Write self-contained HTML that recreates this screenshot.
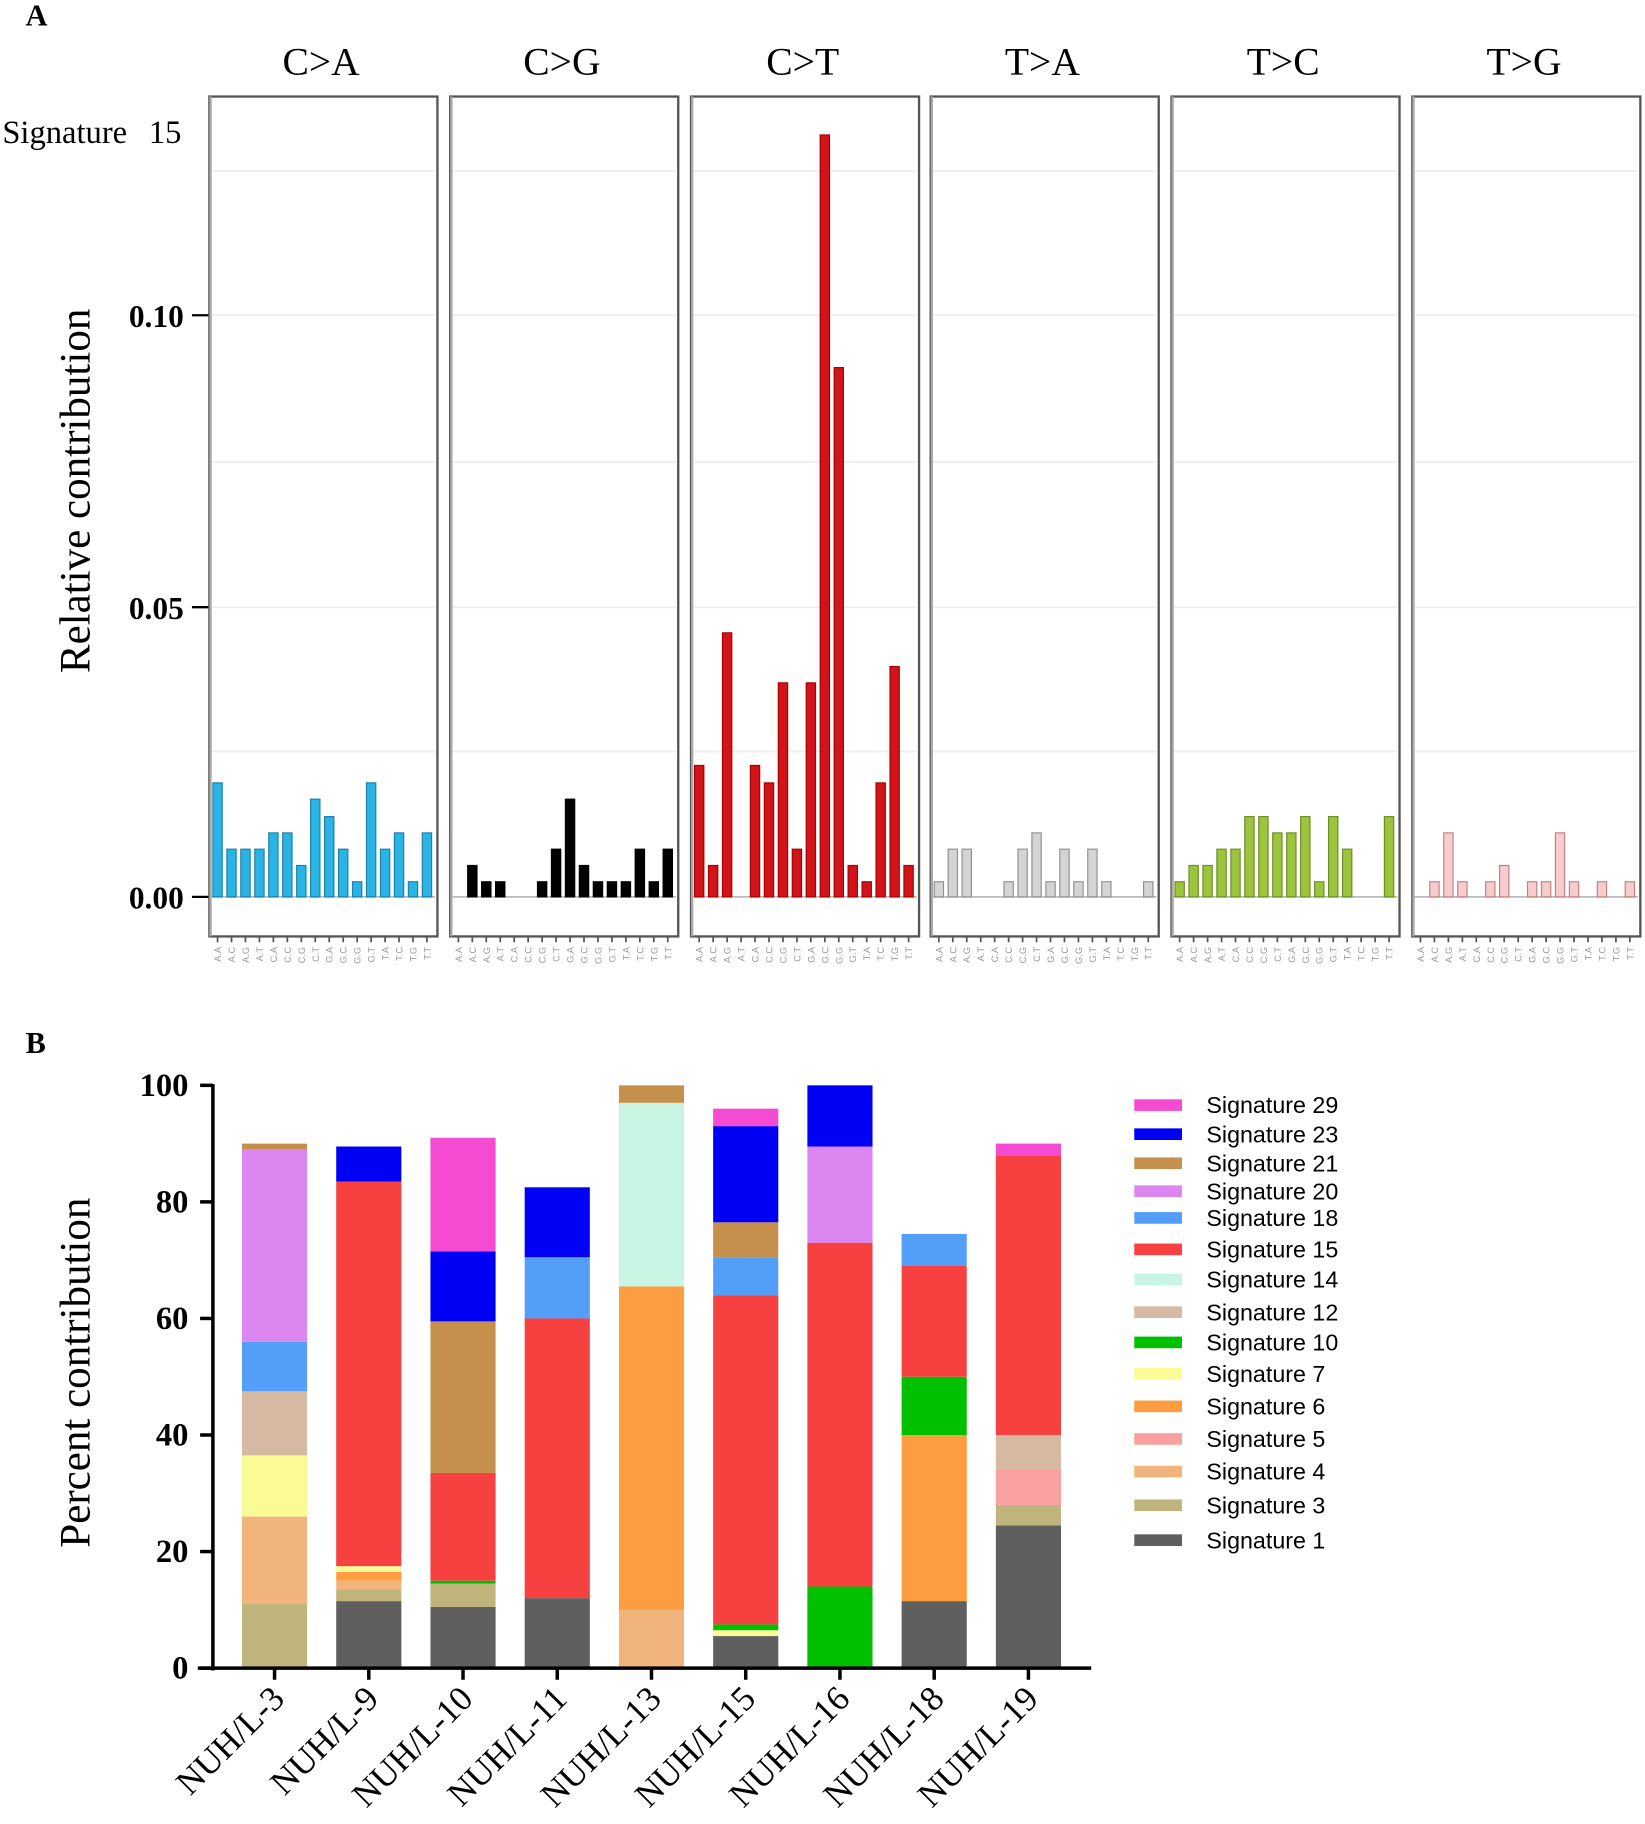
<!DOCTYPE html>
<html><head><meta charset="utf-8"><style>
html,body{margin:0;padding:0;background:#fff;width:1645px;height:1824px;overflow:hidden}
svg{display:block}
text{font-family:"Liberation Serif",serif}
.sans{font-family:"Liberation Sans",sans-serif}
</style></head><body>
<svg id="s" width="1645" height="1824" viewBox="0 0 1414 1568" preserveAspectRatio="none" xmlns="http://www.w3.org/2000/svg">
<text x="22" y="22" font-size="26" font-weight="bold">A</text>
<text x="22" y="905" font-size="26" font-weight="bold">B</text>
<text x="2" y="123" font-size="28">Signature</text>
<text x="128" y="123" font-size="28">15</text>
<text transform="translate(77,422) rotate(-90)" text-anchor="middle" font-size="37">Relative contribution</text>
<text transform="translate(77,1180) rotate(-90)" text-anchor="middle" font-size="37">Percent contribution</text>
<g font-size="27" font-weight="bold" text-anchor="end">
<text x="158" y="281">0.10</text><text x="158" y="532">0.05</text><text x="158" y="781">0.00</text>
</g>
<g stroke="#000" stroke-width="2"><line x1="165" y1="271" x2="180" y2="271"/><line x1="165" y1="522" x2="180" y2="522"/><line x1="165" y1="771" x2="180" y2="771"/></g>
<g id="A"></g>
<g id="B"></g>
</svg>
<script>
var NS="http://www.w3.org/2000/svg";
function el(p,t,a,txt){var e=document.createElementNS(NS,t);for(var k in a)e.setAttribute(k,a[k]);if(txt!==undefined)e.textContent=txt;p.appendChild(e);return e;}
var A=document.getElementById('A'),B=document.getElementById('B');
var titles=["C>A","C>G","C>T","T>A","T>C","T>G"];
var px=[180,387,594,800,1007,1214];
var fills=["#29b4e4","#000000","#d0141a","#d4d4d4","#9cc43c","#f6cccc"];
var strokes=["#1c7fa8","#000","#a00","#909090","#6d8c25","#c08080"];
var H=[[98,41,41,41,55,55,27,84,69,41,13,98,41,55,13,55],
[0,27,13,13,0,0,13,41,84,27,13,13,13,41,13,41],
[113,27,227,0,113,98,184,41,184,655,455,27,13,98,198,27],
[13,41,41,0,0,13,41,55,13,41,13,41,13,0,0,13],
[13,27,27,41,41,69,69,55,55,69,13,69,41,0,0,69],
[0,13,55,13,0,13,27,0,13,13,55,13,0,13,0,13]];
var lab=["A.A","A.C","A.G","A.T","C.A","C.C","C.G","C.T","G.A","G.C","G.G","G.T","T.A","T.C","T.G","T.T"];
for(var p=0;p<6;p++){
 var x0=px[p];
 el(A,'text',{x:x0+96,y:64,'font-size':34,'text-anchor':'middle'},titles[p]);
 [147,397,646,271,522].forEach(function(y){el(A,'line',{x1:x0+2,x2:x0+194,y1:y,y2:y,stroke:'#eee','stroke-width':1.5});});
 el(A,'line',{x1:x0+2,x2:x0+194,y1:771,y2:771,stroke:'#bbb','stroke-width':1.5});
 el(A,'rect',{x:x0,y:83,width:196,height:722,fill:'none',stroke:'#555','stroke-width':2});
 el(A,'line',{x1:x0+1,x2:x0+1,y1:83,y2:805,stroke:'#aaa','stroke-width':2});
 for(var i=0;i<16;i++){
  var bx=x0+3+12*i,h=H[p][i];
  if(h>0)el(A,'rect',{x:bx,y:771-h,width:8,height:h,fill:fills[p],stroke:strokes[p],'stroke-width':1});
  el(A,'line',{x1:bx+4,x2:bx+4,y1:805,y2:810,stroke:'#555','stroke-width':1.5});
  el(A,'text',{transform:'translate('+(bx+7)+',814) rotate(-90)','font-size':8,fill:'#999','text-anchor':'end',class:'sans'},lab[i]);
 }
}
var C={1:"#5f5f5f",3:"#bfb47c",4:"#f0b47c",5:"#f9a0a0",6:"#fb9d40",7:"#fbfb96",10:"#00c000",12:"#d6b9a3",14:"#c8f5e4",15:"#f74040",18:"#539ef9",20:"#dc86f2",21:"#c4904c",23:"#0000f5",29:"#f54ad2"};
var S=[
 ["NUH/L-3",[[3,0,11],[4,11,26],[7,26,36.5],[12,36.5,47.5],[18,47.5,56],[20,56,89],[21,89,90]]],
 ["NUH/L-9",[[1,0,11.5],[3,11.5,13.5],[4,13.5,15],[6,15,16.5],[7,16.5,17.5],[15,17.5,83.5],[23,83.5,89.5]]],
 ["NUH/L-10",[[1,0,10.5],[3,10.5,14.5],[10,14.5,15],[15,15,33.5],[21,33.5,59.5],[23,59.5,71.5],[29,71.5,91]]],
 ["NUH/L-11",[[1,0,12],[15,12,60],[18,60,70.5],[23,70.5,82.5]]],
 ["NUH/L-13",[[4,0,10],[6,10,65.5],[14,65.5,97],[21,97,100]]],
 ["NUH/L-15",[[1,0,5.5],[7,5.5,6.5],[10,6.5,7.5],[15,7.5,64],[18,64,70.5],[21,70.5,76.5],[23,76.5,93],[29,93,96]]],
 ["NUH/L-16",[[10,0,14],[15,14,73],[20,73,89.5],[23,89.5,100]]],
 ["NUH/L-18",[[1,0,11.5],[6,11.5,40],[10,40,50],[15,50,69],[18,69,74.5]]],
 ["NUH/L-19",[[1,0,24.5],[3,24.5,28],[5,28,34],[12,34,40],[15,40,88],[29,88,90]]]];
function Y(v){return 1434-v*5.01;}
S.forEach(function(s,i){
 var cx=236+81*i;
 s[1].forEach(function(seg){el(B,'rect',{x:cx-28,y:Y(seg[2]),width:56,height:Y(seg[1])-Y(seg[2]),fill:C[seg[0]]});});
 el(B,'line',{x1:cx,x2:cx,y1:1434,y2:1444,stroke:'#000','stroke-width':3});
 el(B,'text',{transform:'translate('+(cx+10)+',1462) rotate(-45)','font-size':30,'text-anchor':'end'},s[0]);
});
el(B,'line',{x1:183,x2:183,y1:932,y2:1436,stroke:'#000','stroke-width':3});
el(B,'line',{x1:170,x2:938,y1:1434,y2:1434,stroke:'#000','stroke-width':3});
[0,20,40,60,80,100].forEach(function(v){
 el(B,'line',{x1:172,x2:183,y1:Y(v),y2:Y(v),stroke:'#000','stroke-width':3});
 el(B,'text',{x:162,y:Y(v)+9,'font-size':28,'font-weight':'bold','text-anchor':'end'},v);
});
var L=[[29,950],[23,975],[21,1000],[20,1024],[18,1047],[15,1074],[14,1100],[12,1128],[10,1154],[7,1181],[6,1209],[5,1237],[4,1265],[3,1294],[1,1324]];
L.forEach(function(l){
 el(B,'rect',{x:975,y:l[1]-5,width:41,height:10,fill:C[l[0]]});
 el(B,'text',{x:1037,y:l[1]+7,'font-size':20,class:'sans'},'Signature '+l[0]);
});
</script>
</body></html>
